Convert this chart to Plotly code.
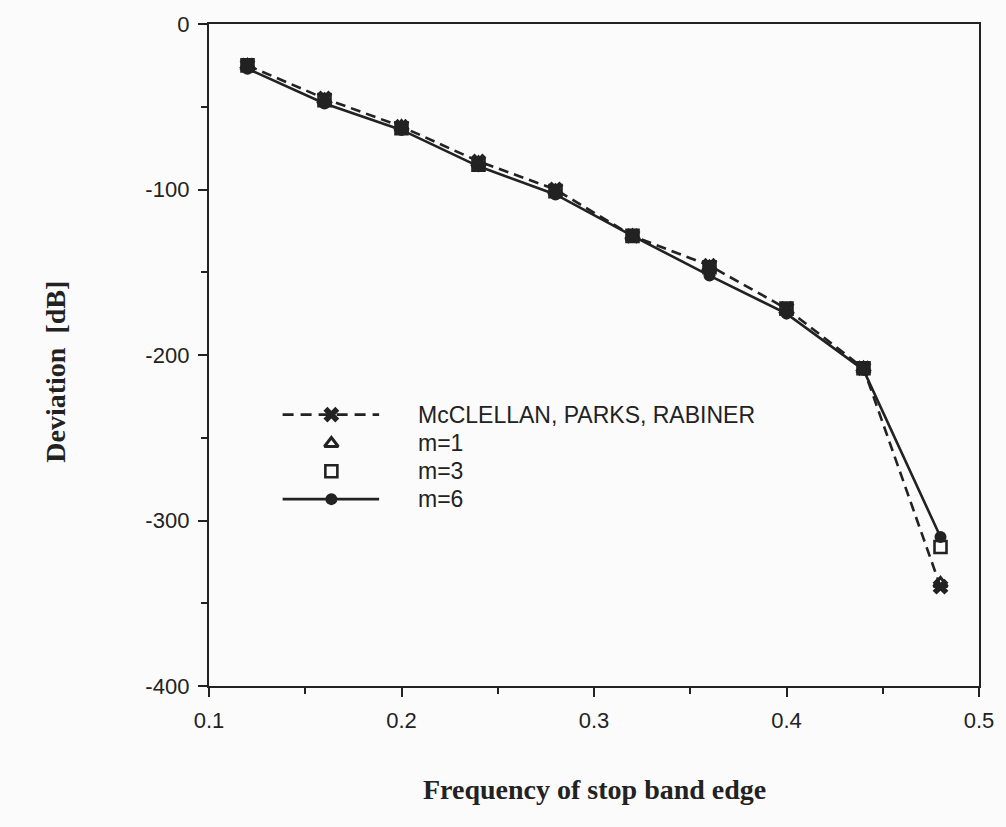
import plotly.graph_objects as go

# Stop band edge frequencies and deviation (dB) per design method
freq = [0.12, 0.16, 0.20, 0.24, 0.28, 0.32, 0.36, 0.40, 0.44, 0.48]
mcclellan = [-25, -45, -62, -83, -100, -128, -146, -172, -208, -340]
m1 = [-25, -46, -62, -84, -101, -128, -147, -173, -208, -338]
m3 = [-25, -46, -63, -85, -101, -128, -147, -172, -208, -316]
m6 = [-27, -48, -64, -86, -103, -128, -152, -175, -209, -310]

legend_labels = ["McCLELLAN, PARKS, RABINER", "m=1", "m=3", "m=6"]
x_ticks = [0.1, 0.2, 0.3, 0.4, 0.5]
y_ticks = [0, -100, -200, -300, -400]

INK = "#222222"
BG = "#fcfbfb"
W, H = 1006, 827
L, R, T, B = 209, 23, 20, 141
pw, ph = W - L - R, H - T - B


def px(x):
    return (x - L) / pw


def py(y):
    return (H - B - y) / ph


SYM_X = dict(symbol="x", size=14, color=INK, line=dict(width=0))
SYM_TRI = dict(symbol="triangle-up-open", size=12, color=INK, line=dict(width=3))
SYM_SQ = dict(symbol="square-open", size=12, color=INK, line=dict(width=2.6))
SYM_DOT = dict(symbol="circle", size=12, color=INK)

fig = go.Figure()

fig.add_trace(go.Scatter(
    x=freq, y=m3, mode="markers", name=legend_labels[2], marker=SYM_SQ,
))
fig.add_trace(go.Scatter(
    x=freq, y=m1, mode="markers", name=legend_labels[1], marker=SYM_TRI,
))
fig.add_trace(go.Scatter(
    x=freq, y=m6, mode="lines+markers", name=legend_labels[3],
    line=dict(color=INK, width=2.6), marker=SYM_DOT,
))
fig.add_trace(go.Scatter(
    x=freq, y=mcclellan, mode="lines+markers", name=legend_labels[0],
    line=dict(color=INK, width=2.6, dash="10px,6px"), marker=SYM_X,
))

# Hand-drawn key inside the plot area
rows = [413, 442, 470, 498]
x0, x1, xm, xt = 283, 380, 332, 417
fig.add_shape(type="line", xref="paper", yref="paper",
              x0=px(x0), x1=px(x1), y0=py(rows[0]), y1=py(rows[0]),
              line=dict(color=INK, width=2.6, dash="11px,7px"))
fig.add_shape(type="line", xref="paper", yref="paper",
              x0=px(x0), x1=px(x1), y0=py(rows[3]), y1=py(rows[3]),
              line=dict(color=INK, width=2.6))
for ypix, sym in zip(rows, [SYM_X, SYM_TRI, SYM_SQ, SYM_DOT]):
    fig.add_trace(go.Scatter(
        x=[px(xm)], y=[py(ypix)], mode="markers", marker=sym,
        xaxis="x2", yaxis="y2", showlegend=False, hoverinfo="skip",
    ))
for ypix, label in zip(rows, legend_labels):
    fig.add_annotation(
        x=px(xt), y=py(ypix), xref="paper", yref="paper", text=label,
        showarrow=False, xanchor="left", yanchor="middle",
        font=dict(family="Liberation Sans, Arial", size=23, color=INK),
    )

# Axis titles
fig.add_annotation(
    x=0.5, y=py(790), xref="paper", yref="paper",
    text="Frequency of stop band edge", showarrow=False,
    xanchor="center", yanchor="middle",
    font=dict(family="Liberation Serif, Times New Roman", size=28, color=INK, weight="bold"),
)
fig.add_annotation(
    x=px(55), y=py(370), xref="paper", yref="paper",
    text="Deviation  [dB]", showarrow=False, textangle=-90,
    xanchor="center", yanchor="middle",
    font=dict(family="Liberation Serif, Times New Roman", size=28, color=INK, weight="bold"),
)

axis_common = dict(
    showgrid=False, zeroline=False, showline=True, mirror=True,
    linecolor=INK, linewidth=2.4, ticks="outside", tickcolor=INK,
    tickwidth=2.2, ticklen=9, ticklabelstandoff=4,
    tickfont=dict(family="Liberation Sans, Arial", size=22, color=INK),
)

fig.update_layout(
    width=W, height=H,
    margin=dict(l=L, r=R, t=T, b=B),
    paper_bgcolor=BG, plot_bgcolor=BG,
    showlegend=False,
    xaxis=dict(range=[0.1, 0.5], tickvals=x_ticks,
               ticktext=[f"{v:.1f}" for v in x_ticks],
               minor=dict(dtick=0.05, tick0=0.1, ticks="outside", ticklen=6,
                          tickwidth=2.2, tickcolor=INK),
               **axis_common),
    yaxis=dict(range=[-400, 0], tickvals=y_ticks,
               ticktext=[str(v) for v in y_ticks],
               minor=dict(dtick=50, tick0=0, ticks="outside", ticklen=6,
                          tickwidth=2.2, tickcolor=INK),
               **axis_common),
    xaxis2=dict(range=[0, 1], overlaying="x", visible=False),
    yaxis2=dict(range=[0, 1], overlaying="y", visible=False),
)

fig.write_html("out.html")
